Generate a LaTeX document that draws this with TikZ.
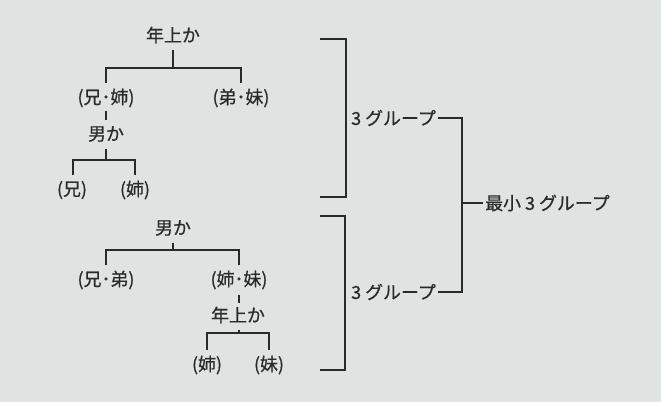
\documentclass[tikz,border=0pt]{standalone}
\usepackage{fontspec}
\newfontfamily\jp[FakeBold=0.6]{Noto Sans CJK JP}
\definecolor{bg}{HTML}{DFE3E2}
\definecolor{ink}{HTML}{2A2A2A}
\begin{document}
\begin{tikzpicture}[x=1bp,y=-1bp,
  lab/.style={font=\jp\fontsize{18}{18}\selectfont, text=ink, inner sep=0pt, minimum height=29bp},
  grp/.style={font=\jp\fontsize{18}{18}\selectfont, text=ink, inner xsep=2pt, inner ysep=0pt, anchor=west},
  ln/.style={draw=ink, line width=1.6bp}]
\fill[bg] (0,0) rectangle (661,402);
\useasboundingbox (0,0) rectangle (661,402);
% top tree
\node[lab] (n1) at (173,35) {年上か};
\node[lab] (n2) at (106,98) {(兄･姉)};
\node[lab] (n3) at (241,98) {(弟･妹)};
\node[lab] (n4) at (106,134) {男か};
\node[lab] (n5) at (72,190) {(兄)};
\node[lab] (n6) at (135,190) {(姉)};
\coordinate (b1) at (173,68);
\coordinate (b2) at (106,160);
\draw[ln] (n1.south) -- (b1);
\draw[ln] (b1) -| (n2.north);
\draw[ln] (b1) -| (n3.north);
\draw[ln] ([yshift=2bp]n2.south) -- ([yshift=-1bp]n4.north);
\draw[ln] (n4.south) -- (b2);
\draw[ln] (b2) -| ([xshift=1bp]n5.north);
\draw[ln] (b2) -| (n6.north);
% bottom tree
\node[lab] (m1) at (173,228) {男か};
\node[lab] (m2) at (106,280) {(兄･弟)};
\node[lab] (m3) at (239,280) {(姉･妹)};
\node[lab] (m4) at (238,315) {年上か};
\node[lab] (m5) at (207,365) {(姉)};
\node[lab] (m6) at (269,365) {(妹)};
\coordinate (c1) at (173,250);
\coordinate (c2) at (239,333);
\draw[ln] (m1.south) -- (c1);
\draw[ln] (c1) -| (m2.north);
\draw[ln] (c1) -| (m3.north);
\draw[ln] (m3.south) -- ([xshift=1bp,yshift=-3bp]m4.north);
\draw[ln] ([xshift=1bp]m4.south) -- (c2);
\draw[ln] (c2) -| (m5.north);
\draw[ln] (c2) -| (m6.north);
% brackets
\draw[ln] (320,39) -- (346,39) -- (346,197) -- (320,197);
\draw[ln] (320,216) -- (345,216) -- (345,370) -- (320,370);
\node[grp] (g1) at (349,118) {3 グループ};
\node[grp] (g2) at (349,292) {3 グループ};
\coordinate (k) at (462,118);
\coordinate (km) at (462,203);
\draw[ln] (g1.east) -- (k) |- (g2.east);
\node[grp] (fin) at (483,203) {最小 3 グループ};
\draw[ln] (km) -- (fin.west);
\end{tikzpicture}
\end{document}
